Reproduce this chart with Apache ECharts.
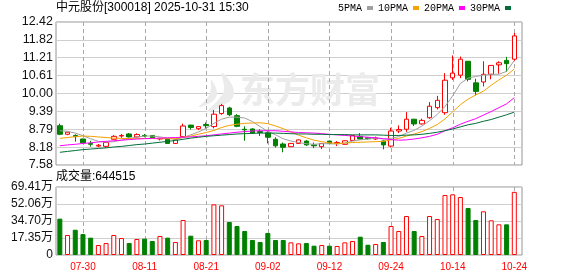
<!DOCTYPE html>
<html><head><meta charset="utf-8">
<script src="https://cdn.jsdelivr.net/npm/echarts@6/dist/echarts.min.js"></script>
<style>html,body{margin:0;padding:0;background:#fff}#c{width:578px;height:276px}</style>
</head><body><div id="c"></div>
<script>
const stockTitle = '中元股份[300018] 2025-10-31 15:30';
const volTitle = '成交量';
const dates = ['07-25','07-28','07-29','07-30','07-31','08-01','08-04','08-05','08-06','08-07',
 '08-08','08-11','08-12','08-13','08-14','08-15','08-18','08-19','08-20','08-21',
 '08-22','08-25','08-26','08-27','08-28','08-29','09-01','09-02','09-03','09-04',
 '09-05','09-08','09-09','09-10','09-11','09-12','09-15','09-16','09-17','09-18',
 '09-19','09-22','09-23','09-24','09-25','09-26','09-29','09-30','10-09','10-10',
 '10-13','10-14','10-15','10-16','10-17','10-20','10-21','10-22','10-23','10-24'];
const opens = [8.91,8.62,8.58,8.46,8.31,8.22,8.21,8.45,8.56,8.63,
 8.53,8.58,8.58,8.46,8.47,8.31,8.54,8.93,8.81,8.95,
 8.88,9.32,9.51,9.25,8.79,8.80,8.71,8.67,8.45,8.29,
 8.20,8.31,8.39,8.26,8.20,8.39,8.31,8.28,8.41,8.55,
 8.50,8.46,8.39,8.22,8.73,8.79,9.13,8.97,9.18,9.52,
 9.35,10.53,10.62,11.09,10.36,10.39,10.65,10.97,11.12,11.16];
const closes = [8.62,8.69,8.54,8.33,8.28,8.25,8.34,8.55,8.58,8.53,
 8.61,8.56,8.50,8.48,8.31,8.43,8.90,8.85,8.88,8.91,
 9.30,9.59,9.28,8.89,8.77,8.66,8.68,8.52,8.23,8.18,
 8.31,8.43,8.26,8.23,8.31,8.31,8.34,8.40,8.58,8.46,
 8.47,8.50,8.26,8.73,8.78,9.13,8.97,9.09,9.57,9.77,
 10.45,10.69,11.16,10.48,10.07,10.65,10.95,11.04,11.01,11.95];
const lows = [8.60,8.59,8.37,8.32,8.20,8.18,8.16,8.44,8.50,8.51,
 8.52,8.52,8.49,8.41,8.30,8.29,8.52,8.78,8.76,8.81,
 8.82,9.28,9.24,8.86,8.40,8.65,8.56,8.31,8.17,8.01,
 8.19,8.30,8.23,8.15,8.12,8.30,8.22,8.27,8.40,8.45,
 8.44,8.43,8.11,8.18,8.66,8.70,8.90,8.95,9.14,9.46,
 9.28,10.46,10.52,10.41,9.94,10.24,10.48,10.67,10.73,11.09];
const highs = [8.98,8.70,8.62,8.47,8.40,8.29,8.36,8.59,8.63,8.66,
 8.65,8.63,8.59,8.50,8.48,8.47,8.98,8.94,8.89,9.02,
 9.44,9.65,9.55,9.30,8.89,8.82,8.79,8.74,8.52,8.34,
 8.32,8.44,8.42,8.34,8.32,8.40,8.39,8.41,8.60,8.66,
 8.53,8.54,8.41,8.84,8.92,9.37,9.14,9.15,9.71,9.92,
 10.69,11.29,11.25,11.10,10.50,11.09,10.96,11.09,11.24,12.05];
const volumes = [371000,204000,258000,214000,177000,102000,122000,204000,173000,122000,
 163000,167000,143000,194000,177000,133000,357000,197000,150000,153000,
 517000,507000,337000,296000,245000,153000,133000,225000,153000,153000,
 129000,119000,122000,95000,102000,95000,92000,129000,143000,187000,
 105000,112000,133000,296000,245000,398000,245000,194000,398000,367000,
 612000,619000,592000,480000,357000,446000,354000,313000,313000,644515];
const ma5 = [8.74,8.72,8.66,8.57,8.47,8.38,8.35,8.37,8.42,8.48,
 8.52,8.56,8.56,8.53,8.49,8.45,8.51,8.60,8.70,8.82,
 8.99,9.13,9.20,9.20,9.17,9.05,8.88,8.72,8.60,8.47,
 8.39,8.34,8.30,8.28,8.30,8.30,8.29,8.32,8.39,8.43,
 8.46,8.49,8.46,8.48,8.54,8.66,8.75,8.90,9.08,9.29,
 9.56,9.92,10.34,10.52,10.58,10.62,10.65,10.65,10.75,11.12];
const ma10 = [8.48,8.51,8.54,8.56,8.55,8.53,8.51,8.49,8.48,8.47,
 8.47,8.48,8.48,8.47,8.47,8.47,8.52,8.56,8.62,8.68,
 8.75,8.85,8.92,8.96,8.99,9.00,9.01,8.98,8.90,8.81,
 8.70,8.59,8.50,8.42,8.37,8.33,8.31,8.32,8.34,8.35,
 8.36,8.37,8.38,8.43,8.48,8.56,8.63,8.71,8.82,8.95,
 9.14,9.38,9.62,9.81,9.95,10.08,10.28,10.46,10.62,10.83];
const ma20 = [8.23,8.26,8.28,8.31,8.33,8.36,8.38,8.40,8.42,8.44,
 8.46,8.47,8.48,8.49,8.50,8.51,8.52,8.53,8.55,8.57,
 8.60,8.63,8.66,8.69,8.71,8.73,8.74,8.74,8.74,8.72,
 8.70,8.68,8.67,8.66,8.64,8.62,8.60,8.58,8.56,8.54,
 8.52,8.50,8.47,8.44,8.42,8.43,8.46,8.50,8.55,8.62,
 8.74,8.84,8.96,9.06,9.15,9.27,9.39,9.52,9.65,9.86];
const ma30 = [8.01,8.04,8.07,8.10,8.12,8.14,8.16,8.19,8.21,8.24,
 8.27,8.29,8.32,8.35,8.38,8.41,8.45,8.49,8.52,8.55,
 8.57,8.59,8.61,8.63,8.64,8.65,8.66,8.66,8.66,8.65,
 8.64,8.63,8.63,8.62,8.62,8.61,8.61,8.61,8.60,8.60,
 8.60,8.60,8.59,8.58,8.58,8.59,8.60,8.62,8.65,8.69,
 8.74,8.80,8.87,8.94,8.99,9.06,9.12,9.20,9.28,9.37];
const maNames = ['5PMA','10PMA','20PMA','30PMA'];
const priceTicks = ['7.58','8.18','8.79','9.39','10.00','10.61','11.21','11.82','12.42'];
const volTicks = ['0','17.35万','34.70万','52.06万','69.41万'];
const labelIdx = [3,11,19,27,35,43,51,59];

const RED = '#ff0000', GREEN = '#008000';
const pMin = 7.58, pMax = 12.42, pStep = (pMax - pMin) / 8;
const vMax = 694100, vStep = vMax / 4;

const chart = echarts.init(document.getElementById('c'), null, {renderer: 'canvas'});
const xCommon = {
  type: 'value', min: -0.5, max: 60,
  axisLine: {show: false},
  axisTick: {show: false},
  splitLine: {show: false}
};
const candleData = dates.map((d, i) => [i, opens[i], closes[i], lows[i], highs[i]]);
const volData = volumes.map((v, i) => {
  const up = closes[i] >= opens[i];
  return {value: [i, v], itemStyle: {color: up ? '#ffffff' : GREEN, borderColor: up ? RED : GREEN, borderWidth: 1}};
});
const maColors = ['#a0a0a0', '#f5a200', '#ff00ff', '#006e38'];
const maData = [ma5, ma10, ma20, ma30];
const watermark = [
  {type: 'text', left: 240, top: 72, z: 0, silent: true,
   style: {text: '东方财富', font: 'bold 35px "Noto Sans CJK SC"', fill: '#ebebeb'}},
  {type: 'polygon', z: 0, silent: true,
   shape: {points: [[222,73],[232,85],[233,97],[222,106],[207,112],[218,100],[224,90]], smooth: 0.4},
   style: {fill: '#ebebeb'}},
  {type: 'polygon', z: 0, silent: true,
   shape: {points: [[211,80],[217,92],[213,101],[199,107],[208,97],[211,88]], smooth: 0.4},
   style: {fill: '#ebebeb'}}
];

chart.setOption({
  animation: false,
  backgroundColor: '#fff',
  title: [
    {text: stockTitle, left: 56, top: 2, padding: 0,
     textStyle: {fontSize: 12, fontWeight: 'normal', color: '#000', fontFamily: 'Liberation Sans, Noto Sans CJK SC'}},
    {text: volTitle + ':' + volumes[volumes.length - 1], left: 56, top: 171, padding: 0,
     textStyle: {fontSize: 12, fontWeight: 'normal', color: '#000', fontFamily: 'Liberation Sans, Noto Sans CJK SC'}}
  ],
  legend: {
    left: 338, top: 3, padding: 0, align: 'right', icon: 'rect', itemWidth: 6, itemHeight: 4, itemGap: 5,
    selectedMode: false, data: maNames,
    textStyle: {fontFamily: 'Liberation Mono', fontSize: 10, color: '#000'}
  },
  grid: [
    {left: 56, width: 466, top: 22, height: 143, show: true, borderColor: '#949494', borderWidth: 1, backgroundColor: 'transparent'},
    {left: 56, width: 466, top: 187, height: 68, show: true, borderColor: '#949494', borderWidth: 1, backgroundColor: 'transparent'}
  ],
  xAxis: [
    Object.assign({gridIndex: 0, axisLabel: {show: false}}, xCommon),
    Object.assign({gridIndex: 1, axisLabel: {show: true, customValues: labelIdx, color: RED, fontSize: 10,
      fontFamily: 'Liberation Sans', margin: 7, formatter: v => dates[Math.round(v)] || ''}}, xCommon)
  ],
  yAxis: [
    {gridIndex: 0, type: 'value', min: pMin, max: pMax, interval: pStep,
     axisLine: {show: false}, axisTick: {show: false},
     splitLine: {show: true, lineStyle: {color: '#cfcfcf', width: 1}},
     axisLabel: {color: '#111', fontSize: 12.5, fontFamily: 'Liberation Sans', margin: 3,
       formatter: v => priceTicks[Math.round((v - pMin) / pStep)]}},
    {gridIndex: 1, type: 'value', min: 0, max: vMax, interval: vStep,
     axisLine: {show: false}, axisTick: {show: false},
     splitLine: {show: true, lineStyle: {color: '#cfcfcf', width: 1}},
     axisLabel: {color: '#111', fontSize: 12, fontFamily: 'Liberation Sans, Noto Sans CJK SC', margin: 3,
       formatter: v => volTicks[Math.round(v / vStep)]}}
  ],
  series: [
    {type: 'candlestick', xAxisIndex: 0, yAxisIndex: 0, barWidth: 5, z: 3,
     encode: {x: 0, y: [1, 2, 3, 4]},
     itemStyle: {color: '#ffffff', color0: GREEN, borderColor: RED, borderColor0: GREEN, borderWidth: 1},
     data: candleData},
    ...maNames.map((n, k) => ({
      name: n, type: 'line', xAxisIndex: 0, yAxisIndex: 0, symbol: 'none', z: 4, silent: true,
      color: maColors[k], lineStyle: {width: 1, color: maColors[k]},
      data: maData[k].map((v, i) => [i, v])
    })),
    {type: 'bar', xAxisIndex: 1, yAxisIndex: 1, barWidth: 5, z: 3, data: volData}
  ]
});

// dashed vertical gridlines at the labelled dates, positioned through the chart's own x scale
const gridLines = [];
[[0, 0, pMin, pMax], [1, 1, 0, vMax]].forEach(([xi, yi, lo, hi]) => {
  const yTop = chart.convertToPixel({yAxisIndex: yi}, hi);
  const yBot = chart.convertToPixel({yAxisIndex: yi}, lo);
  labelIdx.forEach(i => {
    const px = Math.round(chart.convertToPixel({xAxisIndex: xi}, i)) + 0.5;
    gridLines.push({type: 'line', z: 1, silent: true,
      shape: {x1: px, y1: Math.round(yTop), x2: px, y2: Math.round(yBot)},
      style: {stroke: '#a8a8a8', lineWidth: 1, lineDash: [4, 3]}});
  });
});
chart.setOption({graphic: watermark.concat(gridLines)});
</script></body></html>
